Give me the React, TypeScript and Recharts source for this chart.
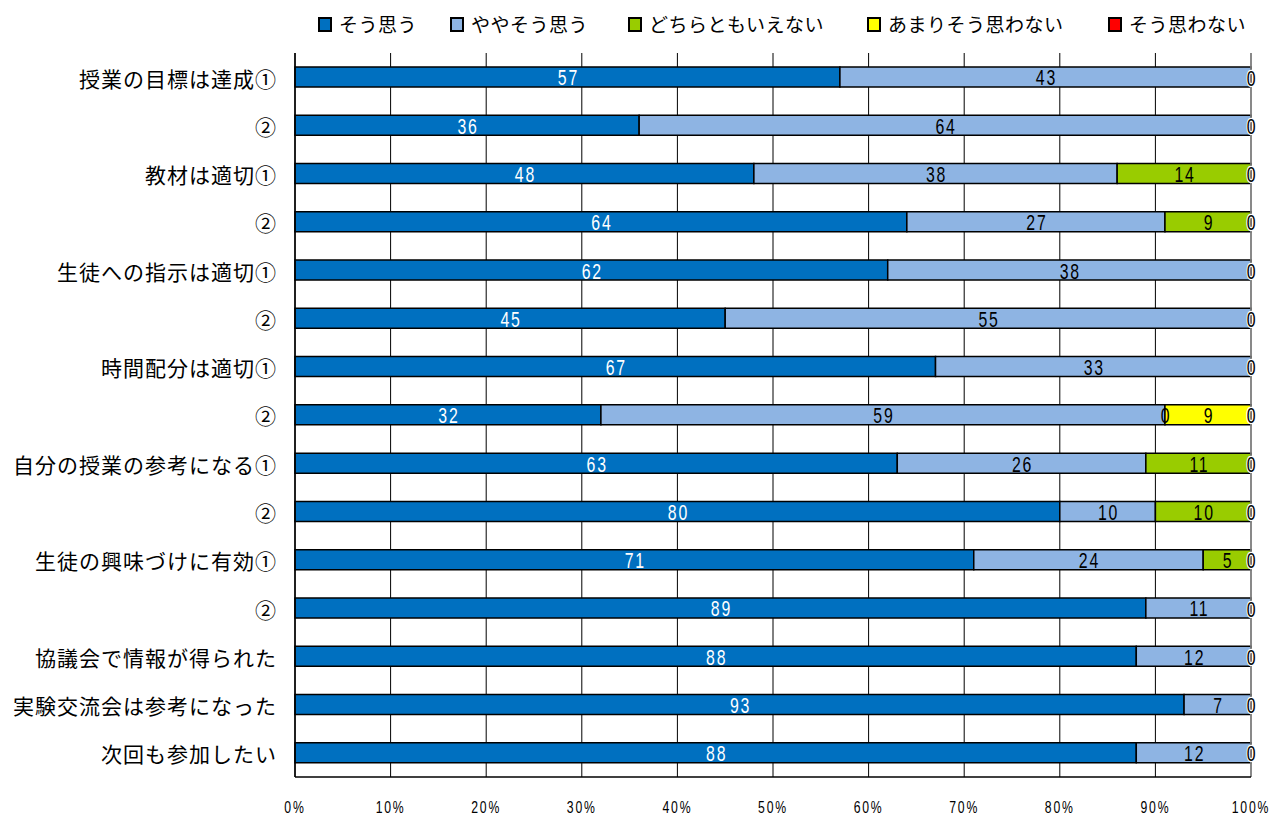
import { ComposedChart, Bar, Line, XAxis, YAxis, CartesianGrid, LabelList, ReferenceLine } from 'recharts'

const categories = [
  '授業の目標は達成①',
  '②',
  '教材は適切①',
  '②',
  '生徒への指示は適切①',
  '②',
  '時間配分は適切①',
  '②',
  '自分の授業の参考になる①',
  '②',
  '生徒の興味づけに有効①',
  '②',
  '協議会で情報が得られた',
  '実験交流会は参考になった',
  '次回も参加したい',
]

const soOmou = [57, 36, 48, 64, 62, 45, 67, 32, 63, 80, 71, 89, 88, 93, 88]
const yayaSoOmou = [43, 64, 38, 27, 38, 55, 33, 59, 26, 10, 24, 11, 12, 7, 12]
const dochiraTomo = [0, 0, 14, 9, 0, 0, 0, 0, 11, 10, 5, 0, 0, 0, 0]
const amariOmowanai = [0, 0, 0, 0, 0, 0, 0, 9, 0, 0, 0, 0, 0, 0, 0]
const soOmowanai = [0, 0, 0, 0, 0, 0, 0, 0, 0, 0, 0, 0, 0, 0, 0]

const xTicks = [0, 10, 20, 30, 40, 50, 60, 70, 80, 90, 100]
const boundaryTicks = [0, 1, 2, 3, 4, 5, 6, 7, 8, 9, 10, 11, 12, 13, 14, 15]

const series = [
  { key: 's1', name: 'そう思う', color: '#0070C0', label: '#ffffff' },
  { key: 's2', name: 'ややそう思う', color: '#8EB4E3', label: '#000000' },
  { key: 's3', name: 'どちらともいえない', color: '#99CC00', label: '#000000' },
  { key: 's4', name: 'あまりそう思わない', color: '#FFFF00', label: '#000000' },
  { key: 's5', name: 'そう思わない', color: '#FF0000', label: '#000000' },
]

const seriesValues = [soOmou, yayaSoOmou, dochiraTomo, amariOmowanai, soOmowanai]

// zero-valued segments have no width; their "0" label sits where the stack has reached so far
const data = categories.map((name, i) => {
  const row: any = { name }
  let sum = 0
  seriesValues.forEach((vals, k) => {
    row[`s${k + 1}`] = vals[i]
    row[`z${k + 1}`] = vals[i] === 0 ? sum : null
    sum += vals[i]
  })
  return row
})

const jpFont = "'Noto Sans CJK JP', sans-serif"
const numFont = "'Liberation Sans', Arial, sans-serif"

const legendLefts = [318, 450, 628, 867, 1108]

function NarrowText({ cx, cy, text, fill, halo, size = 22 }: any) {
  return (
    <text
      x={cx}
      y={cy}
      transform={`translate(${cx},${cy}) scale(0.72,1) translate(${-cx},${-cy})`}
      textAnchor="middle"
      dominantBaseline="central"
      fontFamily={numFont}
      fontSize={size}
      letterSpacing={2.5}
      fill={fill}
      stroke={halo ? '#fff' : 'none'}
      strokeWidth={halo ? 2.5 : 0}
      paintOrder="stroke"
    >
      {text}
    </text>
  )
}

const barLabel = (fill: string) => (props: any) => {
  const vb = props.viewBox || props
  if (!props.value) return null
  return <NarrowText cx={vb.x + vb.width / 2 + 1} cy={vb.y + vb.height / 2 + 1} text={props.value} fill={fill} />
}

const zeroLabel = (halo: boolean) => (props: any) => {
  const vb = props.viewBox || props
  if (props.value == null || vb.x == null || Number.isNaN(vb.x)) return null
  return <NarrowText cx={vb.x + 1} cy={vb.y + 1} text="0" fill="#000" halo={halo} />
}

function XTick(props: any) {
  const { x, y, payload } = props
  return <NarrowText cx={x} cy={y + 6} text={`${payload.value}%`} fill="#000" size={17} />
}

export default function App() {
  return (
    <div style={{ position: 'absolute', left: 0, top: 0, width: 1276, height: 819, background: '#fff' }}>
      {series.map((s, i) => (
        <div
          key={s.key}
          style={{ position: 'absolute', left: legendLefts[i], top: 12, display: 'flex', alignItems: 'center' }}
        >
          <span
            style={{
              display: 'inline-block',
              width: 14,
              height: 15,
              boxSizing: 'border-box',
              border: '2px solid #000',
              background: s.color,
              marginRight: 7,
            }}
          />
          <span style={{ fontFamily: jpFont, fontSize: 19, letterSpacing: 0.5, color: '#000', lineHeight: '24px' }}>
            {s.name}
          </span>
        </div>
      ))}
      <ComposedChart
        width={1276}
        height={819}
        data={data}
        layout="vertical"
        margin={{ top: 53, right: 25, left: 0, bottom: 0 }}
        barSize={20}
      >
        <CartesianGrid horizontal={false} stroke="#000" strokeWidth={1} />
        <XAxis
          type="number"
          domain={[0, 100]}
          ticks={xTicks}
          height={42}
          axisLine={{ stroke: '#000', strokeWidth: 1.5 }}
          tickLine={false}
          tickSize={0}
          tickMargin={24}
          tick={<XTick />}
        />
        <XAxis
          xAxisId="top"
          orientation="top"
          type="number"
          domain={[0, 100]}
          height={0}
          tick={false}
          tickLine={false}
          axisLine={{ stroke: '#000', strokeWidth: 1.5 }}
        />
        <YAxis
          yAxisId={0}
          type="number"
          domain={[0, 15]}
          ticks={boundaryTicks}
          orientation="left"
          mirror
          width={0}
          axisLine={false}
          tickSize={7}
          tickLine={{ stroke: '#000' }}
          tickFormatter={() => ''}
        />
        <YAxis
          yAxisId="cat"
          type="category"
          dataKey="name"
          width={295}
          axisLine={{ stroke: '#000', strokeWidth: 1.5 }}
          tickLine={false}
          tickSize={0}
          tickMargin={18}
          interval={0}
          tick={{ fill: '#000', fontSize: 21, fontFamily: jpFont, letterSpacing: 1, dy: 2 }}
        />
        <ReferenceLine x={100} stroke="#8c8c8c" strokeWidth={1.5} />
        {series.map((s) => (
          <Bar
            key={s.key}
            dataKey={s.key}
            name={s.name}
            yAxisId="cat"
            stackId="a"
            fill={s.color}
            stroke="#000"
            strokeWidth={1.5}
            isAnimationActive={false}
          >
            <LabelList dataKey={s.key} content={barLabel(s.label)} />
          </Bar>
        ))}
        {series.map((s) => (
          <Line
            key={`z-${s.key}`}
            dataKey={`z${s.key.slice(1)}`}
            yAxisId="cat"
            stroke="none"
            dot={false}
            activeDot={false}
            legendType="none"
            isAnimationActive={false}
          >
            <LabelList dataKey={`z${s.key.slice(1)}`} content={zeroLabel(s.key === 's5')} />
          </Line>
        ))}
      </ComposedChart>
    </div>
  )
}
